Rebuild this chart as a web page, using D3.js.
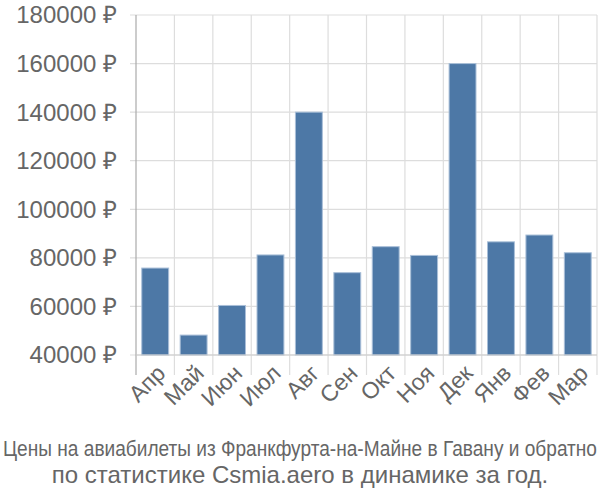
<!DOCTYPE html>
<html><head><meta charset="utf-8">
<script src="https://cdn.jsdelivr.net/npm/d3@7/dist/d3.min.js"></script>
<style>body{margin:0;background:#fff}svg{display:block}</style>
</head><body>
<script>
const months = ["Апр","Май","Июн","Июл","Авг","Сен","Окт","Ноя","Дек","Янв","Фев","Мар"];
const prices = [75800, 48200, 60400, 81200, 140000, 73900, 84600, 81000, 160000, 86600, 89400, 82100];
const yTicks = [40000, 60000, 80000, 100000, 120000, 140000, 160000, 180000];
const titleLines = ["Цены на авиабилеты из Франкфурта-на-Майне в Гавану и обратно", "по статистике Csmia.aero в динамике за год."];

const W = 600, H = 500;
const mLeft = 136, mRight = 597, mTop = 15, mBottom = 355;
const svg = d3.select("body").append("svg").attr("width", W).attr("height", H);
const x = d3.scaleBand().domain(months).range([mLeft, mRight]).paddingInner(0.3).paddingOuter(0.15);
const xb = d3.scaleBand().domain(months).range([mLeft, mRight]);
const y = d3.scaleLinear().domain([40000, 180000]).range([mBottom, mTop]);

const font = "'Liberation Sans', Arial, sans-serif";
const txt = "#666";
// horizontal grid
svg.append("g").selectAll("line").data(yTicks).join("line")
  .attr("x1", mLeft - 6).attr("x2", mRight).attr("y1", d => y(d)).attr("y2", d => y(d))
  .attr("stroke", "#ddd").attr("stroke-width", 1.2);
// vertical grid
svg.append("g").selectAll("line").data(months).join("line")
  .attr("x1", (d, i) => mLeft + xb.step() * (i + 1)).attr("x2", (d, i) => mLeft + xb.step() * (i + 1))
  .attr("y1", mTop).attr("y2", mBottom + 20)
  .attr("stroke", "#ddd").attr("stroke-width", 1.2);
// bars
svg.append("g").selectAll("rect").data(prices).join("rect")
  .attr("x", (d, i) => x(months[i])).attr("width", x.bandwidth())
  .attr("y", d => y(d)).attr("height", d => mBottom - y(d))
  .attr("fill", "#4d78a6").attr("stroke", "#a9bfd8").attr("stroke-width", 1);
// axes lines
svg.append("line").attr("x1", mLeft).attr("x2", mLeft).attr("y1", mTop).attr("y2", mBottom + 20)
  .attr("stroke", "#aaa").attr("stroke-width", 1.2);
svg.append("line").attr("x1", mLeft).attr("x2", mRight).attr("y1", mBottom).attr("y2", mBottom)
  .attr("stroke", "#ccc").attr("stroke-width", 1.2);
// y labels
svg.append("g").selectAll("text").data(yTicks).join("text")
  .attr("x", 117).attr("y", d => y(d)).attr("dy", "0.35em").attr("text-anchor", "end")
  .attr("font-family", font).attr("font-size", 24).attr("fill", txt)
  .text(d => d + " ₽");
// x labels
svg.append("g").selectAll("text").data(months).join("text")
  .attr("transform", d => `translate(${xb(d) + xb.bandwidth() / 2 + 6},${mBottom + 14}) rotate(-45)`)
  .attr("text-anchor", "end").attr("dy", "0.35em")
  .attr("font-family", font).attr("font-size", 23).attr("fill", txt)
  .text(d => d);
// title
svg.append("text").attr("x", W / 2).attr("y", 456).attr("text-anchor", "middle")
  .attr("font-family", "'Liberation Sans Narrow', 'Liberation Sans', sans-serif").attr("font-size", 22).attr("fill", txt)
  .attr("textLength", 594).attr("lengthAdjust", "spacingAndGlyphs")
  .text(titleLines[0]);
svg.append("text").attr("x", W / 2).attr("y", 483).attr("text-anchor", "middle")
  .attr("font-family", font).attr("font-size", 24).attr("fill", txt)
  .text(titleLines[1]);
</script>
</body></html>
